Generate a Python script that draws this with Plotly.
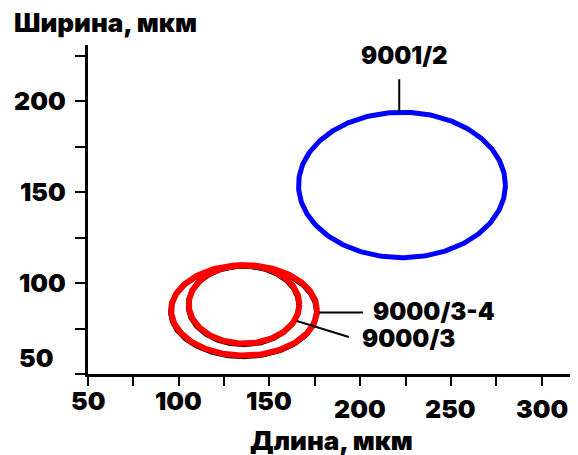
import numpy as np
import plotly.graph_objects as go

# ---- data ----
samples = ["9001/2", "9000/3-4", "9000/3"]
center_length = [223.0, 136.0, 136.0]   # мкм
center_width = [154.0, 85.0, 88.3]      # мкм
half_length = [57.0, 40.2, 30.5]
half_width = [40.0, 24.9, 21.6]
colors = ["#0000ff", "#ff0000", "#ff0000"]
line_widths = [5, 6, 6]

x_tick_vals = [50, 100, 150, 200, 250, 300]
x_tick_text = ["50", "100", "150", "200", "250", "300"]
y_tick_vals = [50, 100, 150, 200]
y_tick_text = ["50", "100", "150", "200"]

FONT = "Inter"
W = 900

theta = np.linspace(0, 2 * np.pi, 361)
fig = go.Figure()

# subtle shadows for red rings
for i in range(len(samples)):
    if colors[i] == "#ff0000":
        fig.add_trace(go.Scatter(
            x=center_length[i] - 0.3 + half_length[i] * np.cos(theta),
            y=center_width[i] - 0.55 + half_width[i] * np.sin(theta),
            mode="lines", line=dict(color="black", width=line_widths[i] - 1),
            hoverinfo="skip", showlegend=False))

for i in range(len(samples)):
    fig.add_trace(go.Scatter(
        x=center_length[i] + half_length[i] * np.cos(theta),
        y=center_width[i] + half_width[i] * np.sin(theta),
        mode="lines", line=dict(color=colors[i], width=line_widths[i]),
        name=samples[i], showlegend=False))

shapes = []
annotations = []
lab_font = dict(family=FONT, size=24, color="black", weight=W)

# 9001/2 : leader up from top of ellipse
ax0, ay0 = center_length[0], center_width[0] + half_width[0]
shapes.append(dict(type="line", xref="x", yref="y", xsizemode="pixel", ysizemode="pixel",
                   xanchor=ax0 - 1.5, yanchor=ay0, x0=0, x1=0, y0=0, y1=33,
                   line=dict(color="black", width=2)))
annotations.append(dict(x=ax0, y=ay0, xref="x", yref="y", text=samples[0],
                        showarrow=False, font=lab_font, xshift=3, yshift=57))

# 9000/3-4 : leader right from outer ellipse
ax1, ay1 = center_length[1] + half_length[1], center_width[1]
shapes.append(dict(type="line", xref="x", yref="y", xsizemode="pixel", ysizemode="pixel",
                   xanchor=ax1, yanchor=ay1, x0=2, x1=46, y0=-2, y1=-2,
                   line=dict(color="black", width=2)))
annotations.append(dict(x=ax1, y=ay1, xref="x", yref="y", text=samples[1],
                        showarrow=False, font=lab_font, xanchor="left", xshift=54, yshift=-1))

# 9000/3 : oblique leader from inner ellipse
ang = np.deg2rad(-23.5)
ax2 = center_length[2] + half_length[2] * np.cos(ang)
ay2 = center_width[2] + half_width[2] * np.sin(ang)
shapes.append(dict(type="line", xref="x", yref="y", xsizemode="pixel", ysizemode="pixel",
                   xanchor=ax2, yanchor=ay2, x0=2, x1=54, y0=-1, y1=-17,
                   line=dict(color="black", width=2)))
annotations.append(dict(x=ax2, y=ay2, xref="x", yref="y", text=samples[2],
                        showarrow=False, font=lab_font, xanchor="left", xshift=65, yshift=-18))

tick_font = dict(family=FONT, size=25, color="black", weight=W)
# x tick labels
for v, t in zip(x_tick_vals, x_tick_text):
    annotations.append(dict(x=v, y=0, xref="x", yref="paper", text=t,
                            showarrow=False, font=tick_font, yanchor="middle",
                            yshift=-27 if v < 200 else -35))
# y tick labels
for v, t in zip(y_tick_vals, y_tick_text):
    annotations.append(dict(x=0, y=v, xref="paper", yref="y", text=t,
                            showarrow=False, font=tick_font, xanchor="right", yanchor="middle",
                            xshift=-20 if v > 50 else -33, yshift=0 if v > 50 else 16))

# axis titles
title_font = dict(family=FONT, size=26, color="black", weight=W)
annotations.append(dict(x=0, y=1, xref="paper", yref="paper", text="Ширина, мкм",
                        showarrow=False, font=title_font,
                        xanchor="left", yanchor="middle", xshift=-76, yshift=23))
annotations.append(dict(x=0.5, y=0, xref="paper", yref="paper", text="Длина, мкм",
                        showarrow=False, font=title_font,
                        xanchor="center", yanchor="middle", xshift=-2, yshift=-66))

fig.update_layout(
    width=570, height=447,
    margin=dict(l=80, r=0, t=37, b=81),
    paper_bgcolor="white", plot_bgcolor="white",
    shapes=shapes, annotations=annotations,
    showlegend=False,
)
fig.update_xaxes(range=[50, 320], showline=True, linecolor="black", linewidth=3,
                 ticks="outside", tickvals=list(range(50, 320, 25)), ticklen=9, tickwidth=2,
                 tickcolor="black", showticklabels=False, showgrid=False, zeroline=False)
fig.update_yaxes(range=[50, 231], showline=True, linecolor="black", linewidth=3,
                 ticks="outside", tickvals=list(range(50, 231, 25)), ticklen=10, tickwidth=2,
                 tickcolor="black", showticklabels=False, showgrid=False, zeroline=False)

fig.write_html("out.html")
